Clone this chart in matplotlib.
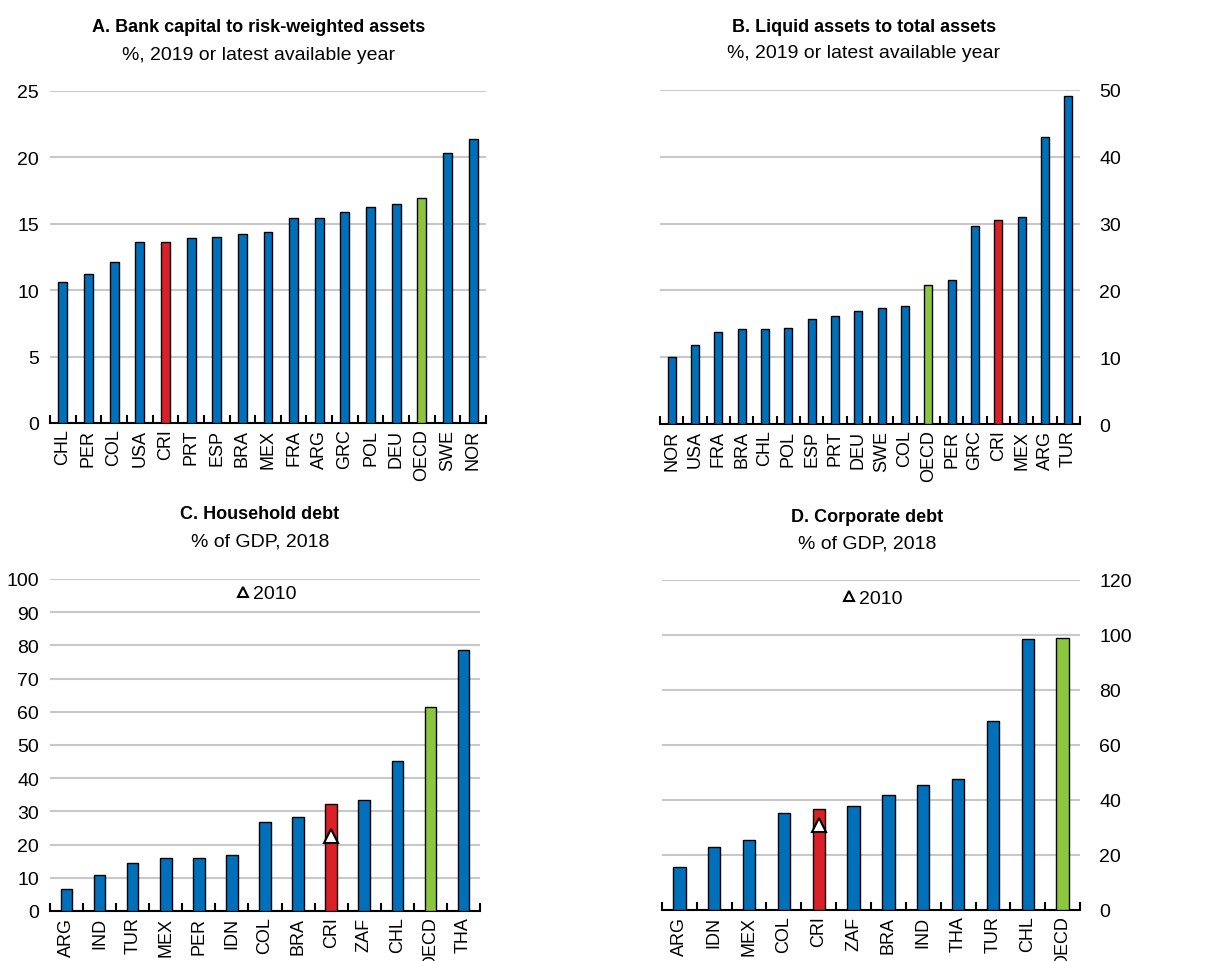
import matplotlib
matplotlib.use('agg')
import matplotlib.pyplot as plt
from matplotlib.lines import Line2D
import numpy as np

plt.rcParams['font.family'] = ['Liberation Sans Narrow', 'Liberation Sans', 'DejaVu Sans']

blue = '#0070BA'
red = '#DA2128'
green = '#8CC63F'
grid_c = '#C8C8C8'

# panel A
a_cat = ['CHL','PER','COL','USA','CRI','PRT','ESP','BRA','MEX','FRA','ARG','GRC','POL','DEU','OECD','SWE','NOR']
a_val = [10.65,11.25,12.15,13.6,13.65,13.92,14.0,14.2,14.42,15.4,15.47,15.92,16.28,16.5,16.95,20.35,21.38]
# panel B
b_cat = ['NOR','USA','FRA','BRA','CHL','POL','ESP','PRT','DEU','SWE','COL','OECD','PER','GRC','CRI','MEX','ARG','TUR']
b_val = [10.05,11.8,13.7,14.2,14.2,14.35,15.7,16.2,16.9,17.3,17.7,20.8,21.6,29.6,30.6,31.0,43.0,49.05]
# panel C
c_cat = ['ARG','IND','TUR','MEX','PER','IDN','COL','BRA','CRI','ZAF','CHL','OECD','THA']
c_val = [6.5,10.9,14.6,15.9,16.0,17.0,26.9,28.2,32.1,33.4,45.3,61.3,78.5]
c_2010 = {'CRI': 22.6}
# panel D
d_cat = ['ARG','IDN','MEX','COL','CRI','ZAF','BRA','IND','THA','TUR','CHL','OECD']
d_val = [15.5,22.9,25.5,35.1,36.6,38.0,42.0,45.3,47.5,68.9,98.6,98.9]
d_2010 = {'CRI': 31.0}

W, H = 1213, 962
fig = plt.figure(figsize=(W/100, H/100), dpi=100)

def box(l, r, t, b):
    return [l/W, 1-b/H, (r-l)/W, (b-t)/H]

fs = 13

def panel(rect, cats, vals, ymax, step, right, title, sub, tx, ty, mk=None, leg=None):
    ax = fig.add_axes(rect)
    x = np.arange(len(cats))
    cols = [red if c == 'CRI' else green if c == 'OECD' else blue for c in cats]
    ax.bar(x, vals, width=0.35, color=cols, edgecolor='black', linewidth=1, zorder=3)
    if mk:
        for c, v in mk.items():
            ax.plot(x[cats.index(c)], v, marker='^', ms=10, mfc='white', mec='black',
                    mew=1.5, ls='none', zorder=4)
    ax.set_xlim(-0.5, len(cats)-0.5)
    ax.set_ylim(0, ymax)
    ax.set_yticks(np.arange(0, ymax+0.1, step))
    ax.yaxis.grid(True, color=grid_c, lw=1.5, zorder=0)
    ax.set_axisbelow(True)
    for s in ['top', 'left', 'right']:
        ax.spines[s].set_visible(False)
    ax.spines['bottom'].set_linewidth(1.5)
    ax.set_xticks(x)
    ax.set_xticklabels(cats, rotation=90, fontsize=fs)
    ax.tick_params(axis='x', which='major', length=0, pad=4)
    # category separators, pointing up into the plot
    ax.set_xticks(np.arange(-0.5, len(cats)), minor=True)
    ax.tick_params(axis='x', which='minor', direction='in', length=6, width=1.5)
    ax.tick_params(axis='y', length=0, labelsize=fs+1, pad=8)
    if right:
        ax.yaxis.tick_right()
        ax.tick_params(axis='y', pad=14)
    fig.text(tx/W, 1-ty/H, title, ha='center', va='center', fontsize=fs, fontweight='bold')
    fig.text(tx/W, 1-(ty+27)/H, sub, ha='center', va='center', fontsize=fs+1)
    if leg:
        h = Line2D([], [], marker='^', ms=7, mfc='white', mec='black', mew=1.5, ls='none')
        ax.legend([h], ['2010'], loc='upper center', bbox_to_anchor=leg, frameon=False,
                  fontsize=fs+1, handletextpad=0.0, handlelength=1.0)
    return ax

panel(box(50, 486, 92, 424), a_cat, a_val, 25, 5, False,
      'A. Bank capital to risk-weighted assets', '%, 2019 or latest available year', 259, 28)
panel(box(660, 1080, 91, 425), b_cat, b_val, 50, 10, True,
      'B. Liquid assets to total assets', '%, 2019 or latest available year', 864, 27)
panel(box(50, 480, 580, 912), c_cat, c_val, 100, 10, False,
      'C. Household debt', '% of GDP, 2018', 260, 515, mk=c_2010, leg=(0.5, 1.035))
panel(box(662, 1080, 581, 911), d_cat, d_val, 120, 20, True,
      'D. Corporate debt', '% of GDP, 2018', 867, 517, mk=d_2010, leg=(0.5, 1.025))

plt.savefig('out.png', dpi=100)
